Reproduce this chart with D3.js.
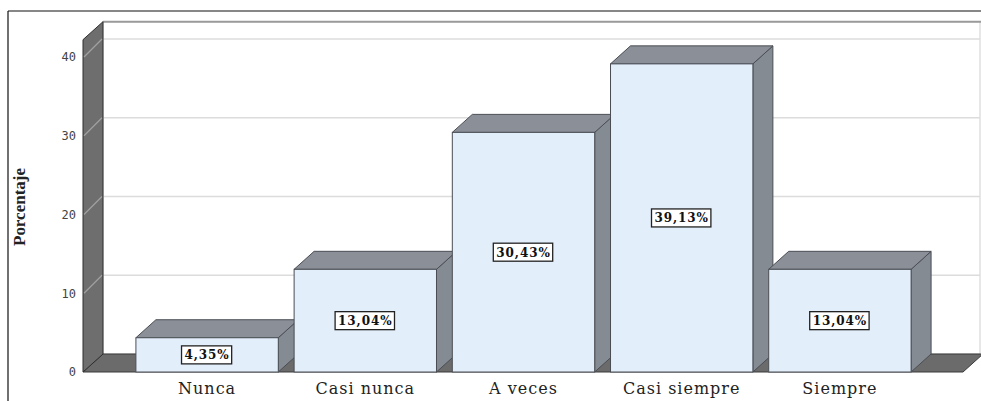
<!DOCTYPE html>
<html>
<head>
<meta charset="utf-8">
<script src="https://cdn.jsdelivr.net/npm/d3@7"></script>
<style>
  html, body { margin: 0; padding: 0; background: #fff; }
  svg { display: block; }
</style>
</head>
<body>
<svg id="chart" width="981" height="401"></svg>
<script>
// Respuestas por categoría (porcentaje)
const categories = ["Nunca", "Casi nunca", "A veces", "Casi siempre", "Siempre"];
const percentages = [4.35, 13.04, 30.43, 39.13, 13.04];
const valueLabels = ["4,35%", "13,04%", "30,43%", "39,13%", "13,04%"];
const yTicks = [0, 10, 20, 30, 40];
const yTitle = "Porcentaje";

const svg = d3.select("#chart");

// depth offset of the 3D box (back plane relative to front plane)
const DX = 20, DY = -18;

const y = d3.scaleLinear().domain([0, 42.2]).range([372, 39.7]);
const x = d3.scaleBand().domain(categories).range([128, 919])
  .paddingInner(0.1).paddingOuter(0.05);

const y0 = y(0), yTop = y(42.2);
const wallX = 83, floorEnd = 963, backRight = 980;

const poly = pts => pts.map(p => p.join(",")).join(" ");

// outer frame
svg.append("line").attr("x1", 8).attr("y1", 11).attr("x2", 981).attr("y2", 11)
  .attr("stroke", "#111").attr("stroke-width", 1.2);
svg.append("line").attr("x1", 8).attr("y1", 11).attr("x2", 8).attr("y2", 401)
  .attr("stroke", "#111").attr("stroke-width", 1.2);

// back wall
svg.append("rect")
  .attr("x", wallX + DX).attr("y", yTop + DY)
  .attr("width", backRight - wallX - DX).attr("height", y0 - yTop)
  .attr("fill", "#ffffff").attr("stroke", "#cfcfcf");
svg.append("line")
  .attr("x1", wallX + DX).attr("x2", backRight + 1)
  .attr("y1", yTop + DY).attr("y2", yTop + DY)
  .attr("stroke", "#9a9a9a").attr("stroke-width", 2);

// gridlines on the back wall
svg.append("g").selectAll("line").data(yTicks.filter(t => t > 0)).join("line")
  .attr("x1", wallX + DX).attr("x2", backRight)
  .attr("y1", d => y(d) + DY).attr("y2", d => y(d) + DY)
  .attr("stroke", "#dcdcdc").attr("stroke-width", 1.5);

// floor
svg.append("polygon")
  .attr("points", poly([[wallX, y0], [wallX + DX, y0 + DY], [floorEnd + DX, y0 + DY], [floorEnd, y0]]))
  .attr("fill", "#6b6b6b").attr("stroke", "#3a3a3a").attr("stroke-width", 1);

// left wall
svg.append("polygon")
  .attr("points", poly([[wallX, y0], [wallX, yTop], [wallX + DX, yTop + DY], [wallX + DX, y0 + DY]]))
  .attr("fill", "#6e6e6e").attr("stroke", "#2e2e2e").attr("stroke-width", 1);
svg.append("g").selectAll("line").data(yTicks.filter(t => t > 0)).join("line")
  .attr("x1", wallX + 1).attr("x2", wallX + DX - 1)
  .attr("y1", d => y(d)).attr("y2", d => y(d) + DY)
  .attr("stroke", "rgba(255,255,255,0.35)").attr("stroke-width", 1.2);

// bars
const bw = x.bandwidth();
const bars = svg.append("g").selectAll("g").data(categories).join("g");
bars.append("polygon")
  .attr("points", (c, i) => {
    const x0 = x(c), yv = y(percentages[i]);
    return poly([[x0 + bw, yv], [x0 + bw + DX, yv + DY], [x0 + bw + DX, y0 + DY], [x0 + bw, y0]]);
  })
  .attr("fill", "#858b93").attr("stroke", "#4a4e54").attr("stroke-width", 1);
bars.append("polygon")
  .attr("points", (c, i) => {
    const x0 = x(c), yv = y(percentages[i]);
    return poly([[x0, yv], [x0 + DX, yv + DY], [x0 + bw + DX, yv + DY], [x0 + bw, yv]]);
  })
  .attr("fill", "#8b9098").attr("stroke", "#4a4e54").attr("stroke-width", 1);
bars.append("rect")
  .attr("x", c => x(c))
  .attr("y", (c, i) => y(percentages[i]))
  .attr("width", bw)
  .attr("height", (c, i) => y0 - y(percentages[i]))
  .attr("fill", "#e3eefb").attr("stroke", "#4a4e54").attr("stroke-width", 1);

// value labels, centred on each bar's front face
const labels = bars.append("g")
  .attr("transform", (c, i) => `translate(${x(c) + bw / 2},${(y(percentages[i]) + y0) / 2})`);
labels.append("text")
  .attr("text-anchor", "middle").attr("dy", "0.36em")
  .attr("font-family", "'DejaVu Serif', serif").attr("font-weight", "bold")
  .attr("font-size", 12).attr("letter-spacing", 0.9).attr("fill", "#111")
  .text((c, i) => valueLabels[i])
  .each(function () {
    const b = this.getBBox();
    d3.select(this.parentNode).insert("rect", "text")
      .attr("x", b.x - 3).attr("y", -9)
      .attr("width", b.width + 5).attr("height", 18)
      .attr("fill", "#fff").attr("stroke", "#222").attr("stroke-width", 1.3);
  });

// y axis tick labels
const yAxis = svg.append("g").attr("transform", `translate(${wallX - 7},0)`)
  .call(d3.axisLeft(y).tickValues(yTicks).tickSize(0).tickPadding(0).tickFormat(d3.format("d")));
yAxis.select(".domain").remove();
yAxis.selectAll("text")
  .attr("font-family", "'DejaVu Sans Mono', monospace").attr("font-size", 12).attr("fill", "#444");

// x axis category labels
const xAxis = svg.append("g").attr("transform", `translate(0,${y0})`)
  .call(d3.axisBottom(x).tickSize(0).tickPadding(11));
xAxis.select(".domain").remove();
xAxis.selectAll("text")
  .attr("font-family", "'DejaVu Serif', serif").attr("font-size", 16)
  .attr("letter-spacing", 1).attr("fill", "#222");

// y axis title
svg.append("text")
  .attr("transform", "translate(25,207) rotate(-90)")
  .attr("text-anchor", "middle")
  .attr("font-family", "'Liberation Serif', serif").attr("font-size", 16)
  .attr("font-weight", "bold").attr("fill", "#222")
  .attr("textLength", 78).attr("lengthAdjust", "spacingAndGlyphs")
  .text(yTitle);
</script>
</body>
</html>
